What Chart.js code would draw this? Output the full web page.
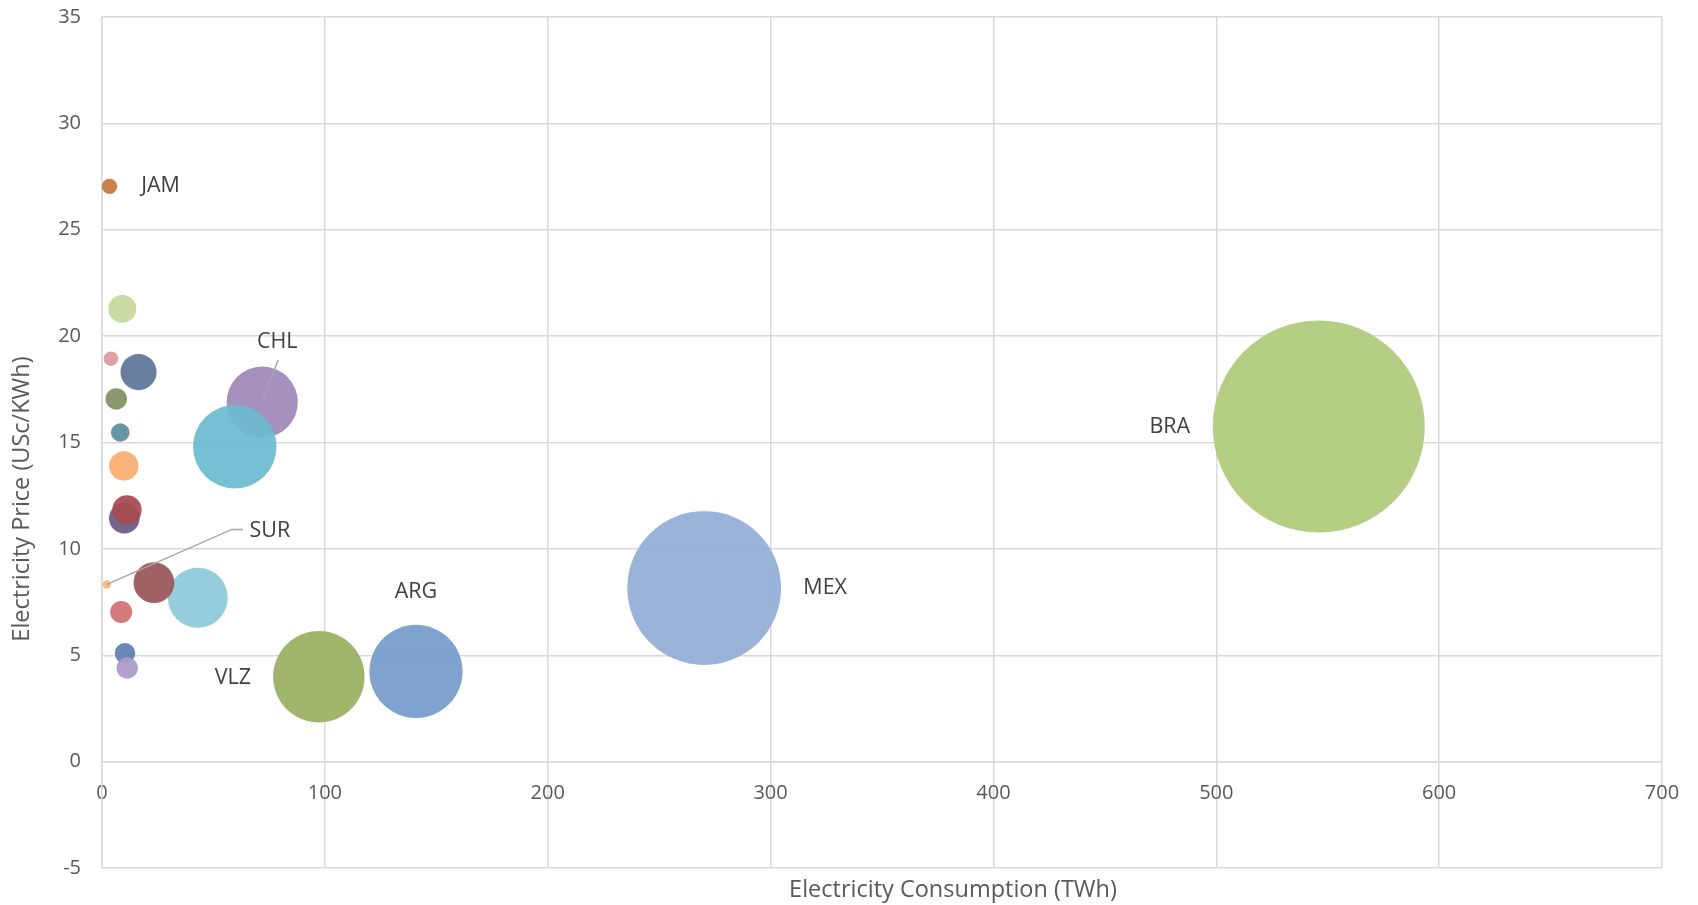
<!DOCTYPE html>
<html>
<head>
<meta charset="utf-8">
<title>Electricity price vs consumption</title>
<script src="https://cdn.jsdelivr.net/npm/chart.js@4/dist/chart.umd.min.js"></script>
<style>
  body { margin: 0; background: #fff; }
  #wrap { width: 1698px; height: 905px; }
</style>
</head>
<body>
<div id="wrap"><canvas id="bubbleChart" width="1698" height="905"></canvas></div>
<script>
// country codes (blank = not labelled in the original)
const countries = ['BRA', 'MEX', 'ARG', 'VLZ', 'CHL', '', '', '', '', '', '', '', '', 'JAM', '', '', '', '', '', '', 'SUR'];
// Electricity Consumption (TWh)
const consumption = [546, 270.2, 140.9, 97.3, 71.9, 59.6, 43.0, 23.3, 16.4, 9.1, 9.8, 10.0, 11.2, 3.4, 4.0, 6.4, 8.2, 8.6, 10.3, 11.3, 2.2];
// Electricity Price (USc/KWh)
const price = [15.75, 8.16, 4.24, 3.99, 16.9, 14.8, 7.70, 8.41, 18.31, 21.28, 13.9, 11.44, 11.83, 27.04, 18.94, 17.05, 15.47, 7.03, 5.09, 4.4, 8.33];
// bubble size (relative)
const bubbleSize = [1000, 526, 193, 186, 113, 155, 80, 37, 29, 17.4, 19.2, 20.8, 19.2, 5.3, 4.7, 10.2, 7.7, 10.8, 9.4, 10.2, 1.6];
const colors = ['#b0cb7a', '#92aed6', '#769ccb', '#98b062', '#9f88b9', '#6dbbd0', '#8ccbdb', '#995659', '#5d7598', '#c5d89e',
  '#f7ad70', '#6a5a82', '#a54b4f', '#c8783c', '#dc9a9a', '#819260', '#5b8e9c', '#d07272', '#5d80b0', '#ad9ac8', '#f6b57f'];

const xTicks = [0, 100, 200, 300, 400, 500, 600, 700];
const yTicks = [-5, 0, 5, 10, 15, 20, 25, 30, 35];
const xTitle = 'Electricity Consumption (TWh)';
const yTitle = 'Electricity Price (USc/KWh)';

const FONT = "'Open Sans', sans-serif";
const GRID = '#d9d9d9';

// where each label sits relative to its bubble (pixels), and optional leader line
const labelPos = {
  BRA: { dx: -149, dy: 0 },
  MEX: { dx: 121, dy: 0 },
  ARG: { dx: 0, dy: -80 },
  VLZ: { dx: -86, dy: 1 },
  JAM: { dx: 51, dy: 0 },
  CHL: { dx: 15, dy: -60, leader: [[16, -42], [0, -1]] },
  SUR: { dx: 163, dy: -54, leader: [[136, -55], [125, -55], [0, 0]] },
};

const points = consumption.map((x, i) => ({ x: x, y: price[i], s: bubbleSize[i] }));

const labelPlugin = {
  id: 'bubbleLabels',
  afterDatasetsDraw(chart) {
    const ctx = chart.ctx;
    const meta = chart.getDatasetMeta(0);
    ctx.save();
    countries.forEach((name, i) => {
      if (!name || !labelPos[name]) return;
      const el = meta.data[i];
      const p = labelPos[name];
      if (p.leader) {
        ctx.beginPath();
        ctx.strokeStyle = '#a6a6a6';
        ctx.lineWidth = 1.5;
        p.leader.forEach((pt, k) => {
          if (k === 0) ctx.moveTo(el.x + pt[0], el.y + pt[1]);
          else ctx.lineTo(el.x + pt[0], el.y + pt[1]);
        });
        ctx.stroke();
      }
      ctx.fillStyle = '#404040';
      ctx.font = '21.5px ' + FONT;
      ctx.textAlign = 'center';
      ctx.textBaseline = 'middle';
      ctx.fillText(name, el.x + p.dx, el.y + p.dy);
    });

    // axis titles (placed like the original, not centred on the plot)
    ctx.fillStyle = '#595959';
    ctx.font = '23.5px ' + FONT;
    ctx.textAlign = 'center';
    ctx.textBaseline = 'middle';
    ctx.fillText(xTitle, 953, 890);
    ctx.translate(22, 499);
    ctx.rotate(-Math.PI / 2);
    ctx.fillText(yTitle, 0, 0);
    ctx.restore();
  }
};

const ctx = document.getElementById('bubbleChart').getContext('2d');
const chart = new Chart(ctx, {
  type: 'bubble',
  data: {
    datasets: [{
      label: 'Countries',
      data: points,
      backgroundColor: colors.map(c => c + 'ee'),
      borderWidth: 0,
      radius: (c) => c.raw ? 3.352 * Math.sqrt(c.raw.s) : 0,
    }],
  },
  options: {
    responsive: false,
    animation: false,
    events: [],
    layout: { autoPadding: false, padding: { top: 17, right: 36, bottom: 37, left: 0 } },
    plugins: {
      legend: { display: false },
      tooltip: { enabled: false },
    },
    scales: {
      x: {
        type: 'linear',
        min: xTicks[0],
        max: xTicks[xTicks.length - 1],
        position: { y: 0 },
        afterBuildTicks: (s) => { s.ticks = xTicks.map(v => ({ value: v })); },
        afterFit: (s) => { s.paddingLeft = 0; s.paddingRight = 0; },
        ticks: { color: '#595959', font: { family: FONT, size: 20 }, padding: 20, maxRotation: 0 },
        grid: { color: GRID, lineWidth: 1.5, drawTicks: false },
        border: { color: GRID, width: 1.5 },
      },
      y: {
        type: 'linear',
        min: yTicks[0],
        max: yTicks[yTicks.length - 1],
        afterBuildTicks: (s) => { s.ticks = yTicks.map(v => ({ value: v })); },
        afterFit: (s) => { s.width = 102; s.paddingTop = 0; s.paddingBottom = 0; },
        ticks: { color: '#595959', font: { family: FONT, size: 20 }, padding: 21 },
        grid: { color: GRID, lineWidth: 1.5, drawTicks: false },
        border: { color: GRID, width: 1.5 },
      },
    },
  },
  plugins: [labelPlugin],
});
</script>
</body>
</html>
